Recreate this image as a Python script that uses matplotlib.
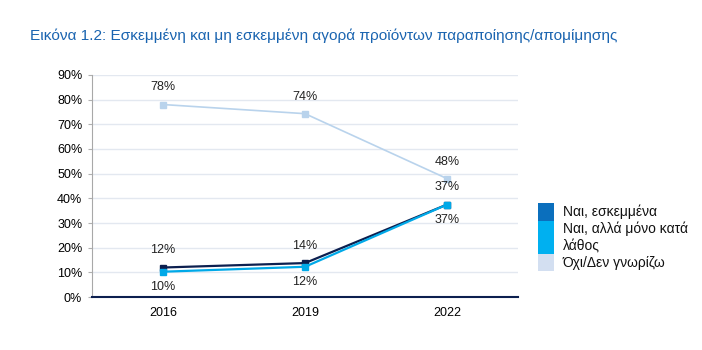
import matplotlib.pyplot as plt
from matplotlib.patches import Rectangle

plt.rcParams['font.family'] = ['Liberation Sans', 'DejaVu Sans']

years = ['2016', '2019', '2022']
intentional = [12, 14, 37]
by_mistake = [10, 12, 37]
no_dont_know = [78, 74, 48]
# values as drawn (slightly different from rounded labels)
intentional_pts = [12.0, 13.8, 37.5]
by_mistake_pts = [10.3, 12.3, 37.5]
no_dont_know_pts = [78.0, 74.3, 48.0]

labels = ['Ναι, εσκεμμένα', 'Ναι, αλλά μόνο κατά\nλάθος', 'Όχι/Δεν γνωρίζω']
line_colors = ['#0c1f4f', '#00a9e8', '#b9d3ec']
legend_colors = ['#0b6fbd', '#00b0f0', '#d3dff1']

fig = plt.figure(figsize=(7.02, 3.5), dpi=100)
ax = fig.add_axes([0.131, 0.151, 0.607, 0.635])

x = [0.5, 1.5, 2.5]
series = [(no_dont_know_pts, line_colors[2], 1.2),
          (intentional_pts, line_colors[0], 1.6),
          (by_mistake_pts, line_colors[1], 1.6)]
for pts, col, lw in series:
    ax.plot(x, pts, color=col, lw=lw, marker='s', ms=5, zorder=3)

# data labels
for i in range(3):
    ax.annotate(f'{no_dont_know[i]}%', (x[i], no_dont_know_pts[i]), xytext=(0, 8),
                textcoords='offset points', ha='center', va='bottom', fontsize=9, color='#222222')
    ax.annotate(f'{intentional[i]}%', (x[i], intentional_pts[i]), xytext=(0, 8),
                textcoords='offset points', ha='center', va='bottom', fontsize=9, color='#222222')
    ax.annotate(f'{by_mistake[i]}%', (x[i], by_mistake_pts[i]), xytext=(0, -7),
                textcoords='offset points', ha='center', va='top', fontsize=9, color='#222222')

ax.set_xlim(0, 3)
ax.set_ylim(0, 90)
ax.set_xticks(x)
ax.set_xticklabels(years, fontsize=9)
ax.set_yticks(range(0, 91, 10))
ax.set_yticklabels([f'{v}%' for v in range(0, 91, 10)], fontsize=9)
ax.tick_params(axis='x', length=0, pad=7)
ax.tick_params(axis='y', length=3, color='#b0b0b0', pad=4)
ax.grid(axis='y', color='#e3e8f0', lw=1)
ax.set_axisbelow(True)
for s in ['top', 'right']:
    ax.spines[s].set_visible(False)
ax.spines['left'].set_color('#a8a8a8')
ax.spines['bottom'].set_color('#0c1f4f')
ax.spines['bottom'].set_linewidth(1.5)

fig.text(0.043, 0.897, 'Εικόνα 1.2: Εσκεμμένη και μη εσκεμμένη αγορά προϊόντων παραποίησης/απομίμησης',
         fontsize=11.05, color='#1a64b0', va='center')

# legend drawn as stacked colour blocks
tops = [203, 221, 254]
bottoms = [221, 254, 271]
for lab, col, t, b in zip(labels, legend_colors, tops, bottoms):
    fig.patches.append(Rectangle((538 / 702, 1 - b / 350), 16 / 702, (b - t) / 350,
                                 transform=fig.transFigure, color=col, lw=0))
    fig.text(563 / 702, 1 - (t + b) / 2 / 350, lab, fontsize=10, va='center', ha='left',
             color='#111111', linespacing=1.25)

fig.savefig('out.png', dpi=100)
